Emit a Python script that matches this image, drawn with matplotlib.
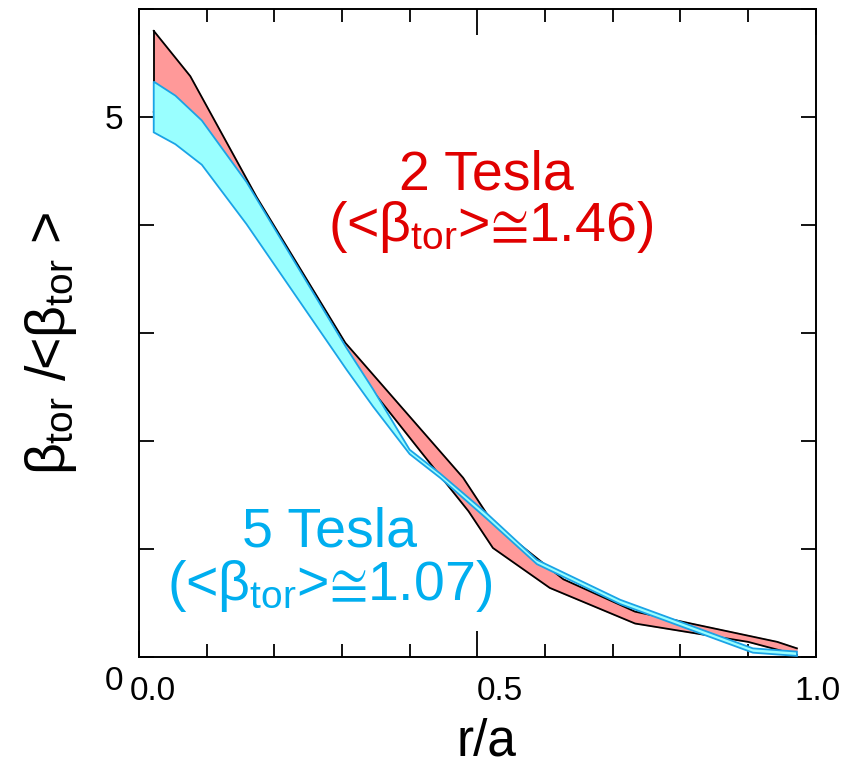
import matplotlib
matplotlib.use("Agg")
import matplotlib.pyplot as plt
import matplotlib.transforms as mtransforms
import numpy as np

plt.rcParams["font.family"] = ["Liberation Sans", "DejaVu Sans"]
plt.rcParams["mathtext.fontset"] = "custom"
plt.rcParams["mathtext.rm"] = "Liberation Sans"
plt.rcParams["mathtext.it"] = "Liberation Sans"
plt.rcParams["mathtext.fallback"] = "stixsans"

# 2 Tesla band (red), upper and lower edges
r2_up = [0.022, 0.076, 0.174, 0.305, 0.479, 0.523, 0.627, 0.733, 0.943, 0.972]
b2_up = [5.80, 5.38, 4.26, 2.91, 1.66, 1.24, 0.72, 0.42, 0.14, 0.08]
r2_lo = [0.022, 0.10, 0.20, 0.346, 0.418, 0.487, 0.523, 0.607, 0.733, 0.90, 0.972]
b2_lo = [5.05, 4.75, 3.80, 2.46, 1.89, 1.35, 1.01, 0.64, 0.31, 0.14, 0.02]

# 5 Tesla band (cyan)
r5 = [0.022, 0.054, 0.093, 0.159, 0.307, 0.346, 0.40, 0.445, 0.514, 0.588, 0.711, 0.907, 0.972]
b5_up = [5.33, 5.20, 4.97, 4.40, 2.86, 2.48, 1.92, 1.70, 1.33, 0.90, 0.53, 0.08, 0.05]
b5_lo = [4.86, 4.75, 4.56, 4.01, 2.66, 2.32, 1.88, 1.66, 1.28, 0.86, 0.49, 0.04, 0.01]

RED_FILL, RED_TXT = "#ff9999", "#e00000"
CY_FILL, CY_EDGE, CY_TXT = "#99ffff", "#1aa3e6", "#00aeef"

fig = plt.figure(figsize=(8.57, 7.66), dpi=100)
ax = fig.add_axes([0.162, 0.1423, 0.790, 0.8456])

# red band
ax.fill(np.concatenate([r2_up, r2_lo[::-1]]), np.concatenate([b2_up, b2_lo[::-1]]),
        facecolor=RED_FILL, edgecolor=RED_FILL, lw=1.0, zorder=2)
ax.plot(r2_up, b2_up, color="black", lw=1.3, zorder=3)
ax.plot(r2_lo, b2_lo, color="black", lw=1.3, zorder=3)
ax.plot([r2_up[0], r2_lo[0]], [b2_up[0], b2_lo[0]], color="black", lw=1.3, zorder=3)

# cyan band on top
ax.fill(np.concatenate([r5, r5[::-1]]), np.concatenate([b5_up, b5_lo[::-1]]),
        facecolor=CY_FILL, edgecolor=CY_EDGE, lw=1.3, zorder=4)

ax.set_xlim(0, 1.0)
ax.set_ylim(0, 6)

ax.set_xticks([0, 0.5, 1.0])
ax.set_xticklabels(["0.0", "0.5", "1.0"])
ax.set_xticks(np.arange(0, 1.01, 0.1), minor=True)
ax.set_yticks(range(7))
ax.set_yticklabels(["0", "", "", "", "", "5", ""])
ax.tick_params(axis="both", which="both", direction="in", top=True, right=True,
               width=1.3, labelsize=24, pad=14)
ax.tick_params(axis="x", which="major", length=19)
ax.tick_params(axis="x", which="minor", length=9.5)
ax.tick_params(axis="y", which="major", length=11, pad=11)
for s in ax.spines.values():
    s.set_linewidth(1.4)

# nudge tick labels like the original
offs = [10, 16, 1.5]
for lab, dx in zip(ax.get_xticklabels(), offs):
    lab.set_transform(lab.get_transform() + mtransforms.ScaledTranslation(dx / 72, 0, fig.dpi_scale_trans))
ylab0 = ax.get_yticklabels()[0]
ylab0.set_transform(ylab0.get_transform() + mtransforms.ScaledTranslation(0, -15 / 72, fig.dpi_scale_trans))

ax.set_xlabel("r/a", fontsize=37)
ax.xaxis.set_label_coords(0.513, -0.094)
ax.set_ylabel(r"$\beta_{\rm tor}$ /<$\beta_{\rm tor}$ >", fontsize=40)
ax.yaxis.set_label_coords(-0.088, 0.485)

ax.text(0.514, 4.46, "2 Tesla", color=RED_TXT, fontsize=40, ha="center", va="center")
ax.text(0.519, 3.98, r"(<$\beta_{\rm tor}$>$≅$1.46)", color=RED_TXT, fontsize=40,
        ha="center", va="center")
ax.text(0.281, 1.15, "5 Tesla", color=CY_TXT, fontsize=40, ha="center", va="center")
ax.text(0.282, 0.66, r"(<$\beta_{\rm tor}$>$≅$1.07)", color=CY_TXT, fontsize=40,
        ha="center", va="center")

fig.savefig("out.png", dpi=100)
